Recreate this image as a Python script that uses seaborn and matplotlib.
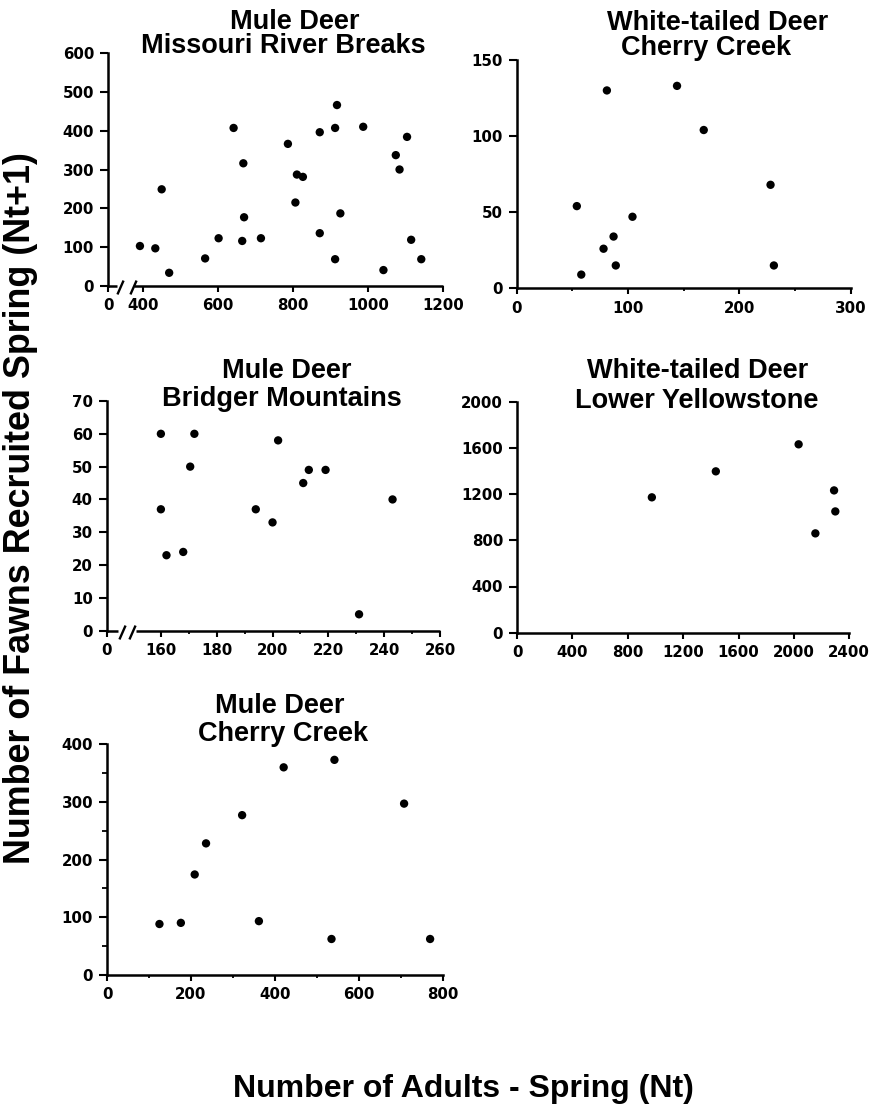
import numpy as np
import pandas as pd
import matplotlib
matplotlib.use("Agg")
import matplotlib.pyplot as plt
from matplotlib.path import Path
import seaborn as sns

# ---- data: adults in spring (Nt) vs fawns recruited next spring (Nt+1) ----
mr_adults = [391, 432, 449, 469, 565, 601, 641, 664, 667, 669, 714, 786, 806, 810,
             826, 871, 871, 912, 912, 917, 926, 987, 1041, 1074, 1084, 1104, 1115, 1142]
mr_fawns = [103, 97, 249, 34, 71, 123, 407, 116, 316, 177, 123, 366, 215, 287,
            281, 396, 136, 407, 69, 466, 187, 410, 41, 337, 300, 384, 119, 69]

wtcc_adults = [54, 58, 78, 81, 87, 89, 104, 144, 168, 228, 231]
wtcc_fawns = [54, 9, 26, 130, 34, 15, 47, 133, 104, 68, 15]

bm_adults = [160, 160, 162, 168, 170.5, 172, 194, 200, 202, 211, 213, 219, 231, 243]
bm_fawns = [60, 37, 23, 24, 50, 60, 37, 33, 58, 45, 49, 49, 5, 40]

ly_adults = [974, 1436, 2034, 2155, 2290, 2299]
ly_fawns = [1172, 1397, 1631, 860, 1232, 1050]

mcc_adults = [125, 176, 209, 236, 322, 362, 421, 535, 542, 708, 770]
mcc_fawns = [88, 90, 174, 228, 277, 93, 360, 62, 373, 297, 62]

mr_xticks = [0, 400, 600, 800, 1000, 1200]
mr_yticks = [0, 100, 200, 300, 400, 500, 600]
wtcc_xticks = [0, 100, 200, 300]
wtcc_yticks = [0, 50, 100, 150]
bm_xticks = [0, 160, 180, 200, 220, 240, 260]
bm_yticks = [0, 10, 20, 30, 40, 50, 60, 70]
ly_xticks = [0, 400, 800, 1200, 1600, 2000, 2400]
ly_yticks = [0, 400, 800, 1200, 1600, 2000]
mcc_xticks = [0, 200, 400, 600, 800]
mcc_yticks = [0, 100, 200, 300, 400]

# ---- style ----
sns.set_style("ticks")
plt.rcParams.update({
    "font.family": ["DejaVu Sans"],
    "font.weight": "bold",
    "font.size": 10.8,
    "axes.linewidth": 1.8,
    "axes.edgecolor": "black",
    "xtick.major.width": 1.5,
    "ytick.major.width": 1.5,
    "xtick.minor.width": 1.3,
    "ytick.minor.width": 1.3,
    "xtick.major.size": 4.0,
    "ytick.major.size": 5.5,
    "xtick.minor.size": 2.5,
    "ytick.minor.size": 3.5,
    "xtick.major.pad": 5.0,
    "ytick.major.pad": 4.5,
    "xtick.direction": "out",
    "ytick.direction": "out",
    "xtick.color": "black",
    "ytick.color": "black",
})

W, H = 880, 1108
fig = plt.figure(figsize=(W / 100, H / 100), dpi=100)
fig.patch.set_facecolor("white")

TITLE_FONT = dict(family="Liberation Sans", weight="bold", size=19.5, color="black")


def px_box(left, top, right, bottom):
    return [left / W, 1 - bottom / H, (right - left) / W, (bottom - top) / H]


def broken_scale(start, k):
    """Linear above `start`, compressed by factor k below it."""
    def fwd(v):
        v = np.asarray(v, dtype=float)
        return np.where(v >= start, v, start - (start - v) * k)

    def inv(u):
        u = np.asarray(u, dtype=float)
        return np.where(u >= start, u, start - (start - u) / k)
    return fwd, inv


slash = Path([(-0.22, -0.5), (0.22, 0.5)], [Path.MOVETO, Path.LINETO])

panels = [
    dict(x=mr_adults, y=mr_fawns, box=(108, 53, 443, 286), xlim=(0, 1200), ylim=(0, 600),
         xticks=mr_xticks, yticks=mr_yticks, xminor=None, yminor=None,
         brk=(350, 0.1265, 0.027, 0.036, 0.074, 0.078),
         titles=[("Mule Deer", 295, 29), ("Missouri River Breaks", 283, 53)]),
    dict(x=wtcc_adults, y=wtcc_fawns, box=(516.7, 60, 850.7, 288.3), xlim=(0, 300), ylim=(0, 150),
         xticks=wtcc_xticks, yticks=wtcc_yticks, xminor=[50, 150, 250], yminor=None, brk=None,
         titles=[("White-tailed Deer", 718, 30), ("Cherry Creek", 706, 55)]),
    dict(x=bm_adults, y=bm_fawns, box=(106.7, 401, 440, 630.7), xlim=(0, 260), ylim=(0, 70),
         xticks=bm_xticks, yticks=bm_yticks, xminor=[170, 190, 210, 230, 250], yminor=None,
         brk=(155, 0.093, 0.034, 0.046, 0.076, 0.088),
         titles=[("Mule Deer", 287, 378), ("Bridger Mountains", 282, 406)]),
    dict(x=ly_adults, y=ly_fawns, box=(517, 401.7, 849.3, 632.7), xlim=(0, 2400), ylim=(0, 2000),
         xticks=ly_xticks, yticks=ly_yticks, xminor=None, yminor=None, brk=None,
         titles=[("White-tailed Deer", 698, 378), ("Lower Yellowstone", 697, 408)]),
    dict(x=mcc_adults, y=mcc_fawns, box=(107, 744.3, 442.7, 974.7), xlim=(0, 800), ylim=(0, 400),
         xticks=mcc_xticks, yticks=mcc_yticks, xminor=[100, 300, 500, 700],
         yminor=[50, 150, 250, 350], brk=None,
         titles=[("Mule Deer", 280, 713), ("Cherry Creek", 283, 741)]),
]

for p in panels:
    ax = fig.add_axes(px_box(*p["box"]))
    ax.set_facecolor("white")
    if p["brk"] is not None:
        start, k = p["brk"][0], p["brk"][1]
        ax.set_xscale("function", functions=broken_scale(start, k))

    df = pd.DataFrame({"adults": p["x"], "fawns": p["y"]})
    sns.scatterplot(data=df, x="adults", y="fawns", ax=ax, color="black",
                    s=36, linewidth=0, edgecolor="none", zorder=3, clip_on=False)

    sns.despine(ax=ax)
    if p["brk"] is not None:
        _, _, a, b, c, d = p["brk"]
        ax.spines["bottom"].set_visible(False)
        line_kw = dict(transform=ax.transAxes, color="black", lw=1.8,
                       clip_on=False, solid_capstyle="butt")
        ax.plot([0, a], [0, 0], **line_kw)
        ax.plot([d, 1], [0, 0], **line_kw)
        ax.plot([b, c], [-0.004, -0.004], transform=ax.transAxes, ls="none",
                marker=slash, ms=10, mew=1.7, mfc="none", mec="black", clip_on=False)

    ax.set_xlim(*p["xlim"])
    ax.set_ylim(*p["ylim"])
    ax.set_xticks(p["xticks"])
    ax.set_yticks(p["yticks"])
    ax.set_xticklabels([str(t) for t in p["xticks"]])
    ax.set_yticklabels([str(t) for t in p["yticks"]])
    if p["xminor"]:
        ax.set_xticks(p["xminor"], minor=True)
    else:
        ax.set_xticks([], minor=True)
    if p["yminor"]:
        ax.set_yticks(p["yminor"], minor=True)
    else:
        ax.set_yticks([], minor=True)
    ax.set_xlabel("")
    ax.set_ylabel("")
    for lab in ax.get_xticklabels() + ax.get_yticklabels():
        lab.set_fontweight("bold")

    for text, cx, base in p["titles"]:
        fig.text(cx / W, 1 - base / H, text, ha="center", va="baseline", **TITLE_FONT)

# shared axis labels
fig.text(21 / W, 1 - 508.5 / H, "Number of Fawns Recruited Spring (Nt+1)",
         rotation=90, ha="center", va="center",
         family="Liberation Sans", weight="bold", size=25.8, color="black")
fig.text(463 / W, 1 - 1096.7 / H, "Number of Adults - Spring (Nt)",
         ha="center", va="baseline",
         family="Liberation Sans", weight="bold", size=23, color="black")

fig.savefig("out.png", dpi=100, facecolor="white")
